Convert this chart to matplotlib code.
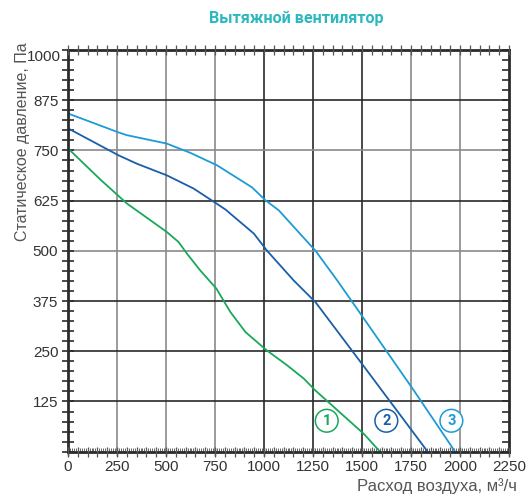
import matplotlib
matplotlib.use("Agg")
import matplotlib.pyplot as plt
import numpy as np
from matplotlib.ticker import MultipleLocator, NullFormatter

plt.rcParams['font.family'] = ['Liberation Sans', 'DejaVu Sans']

title = "Вытяжной вентилятор"
xlabel = "Расход воздуха, м³/ч"
ylabel = "Статическое давление, Па"

x_ticks = [0, 250, 500, 750, 1000, 1250, 1500, 1750, 2000, 2250]
y_ticks = [125, 250, 375, 500, 625, 750, 875, 1000]

curve1_x = [0, 164, 300, 504, 564, 607, 675, 757, 828, 905, 1012, 1118, 1203, 1263, 1510, 1592]
curve1_y = [755, 678, 618, 547, 522, 493, 451, 406, 348, 298, 253, 215, 182, 152, 44, 0]

curve2_x = [0, 257, 351, 504, 641, 760, 803, 948, 1016, 1152, 1263, 1510, 1835]
curve2_y = [805, 738, 717, 688, 655, 617, 603, 543, 500, 426, 372, 212, 0]

curve3_x = [0, 257, 300, 504, 624, 760, 939, 1007, 1075, 1263, 1374, 1510, 1765, 1975]
curve3_y = [842, 795, 788, 767, 744, 713, 658, 626, 601, 500, 426, 331, 152, 0]

labels = ["1", "2", "3"]
label_x = [1320, 1624, 1956]
label_y = [77, 77, 77]
colors = ["#19a85a", "#1a5fa6", "#1d9bd6"]

fig = plt.figure(figsize=(5.26, 5.04), dpi=100)
ax = fig.add_axes([0.1293, 0.1038, 0.9677 - 0.1293, 0.9008 - 0.1038])
ax.set_xlim(0, 2250)
ax.set_ylim(0, 1000)

# grid lines
grid_gray = "#8a8a8a"
grid_dark = "#2a2a2a"
for xv in x_ticks[1:-1]:
    c = grid_gray if xv in (250, 500, 750, 1750, 2000) else grid_dark
    ax.axvline(xv, color=c, lw=1.2, zorder=1)
for yv in y_ticks[:-1]:
    c = grid_gray if yv in (750, 500) else grid_dark
    ax.axhline(yv, color=c, lw=1.2, zorder=1)

for xs, ys, c in zip([curve1_x, curve2_x, curve3_x], [curve1_y, curve2_y, curve3_y], colors):
    ax.plot(xs, ys, color=c, lw=1.3, zorder=3, solid_capstyle='butt')

for lab, lx, ly, c in zip(labels, label_x, label_y, colors):
    ax.text(lx, ly, lab, color=c, fontsize=10.5, fontweight='bold', ha='center', va='center',
            zorder=4, family=['Roboto', 'DejaVu Sans'],
            bbox=dict(boxstyle='circle,pad=0.3', fc='white', ec=c, lw=1.1))

for s in ax.spines.values():
    s.set_linewidth(2.0)
    s.set_color("#2b2b2b")
    s.set_zorder(5)

ax.set_xticks(x_ticks)
ax.set_xticklabels([str(v) for v in x_ticks])
ax.xaxis.set_minor_locator(MultipleLocator(10))
ax.tick_params(axis='x', which='major', direction='inout', length=6, width=1.0,
               top=True, bottom=True, labelsize=11, labelcolor="#333333", color="#444444", pad=3)
ax.tick_params(axis='x', which='minor', direction='in', length=3, width=0.7,
               top=True, bottom=True, color="#666666")

ax.set_yticks(y_ticks)
ax.set_yticklabels([str(v) if v != 1000 else "" for v in y_ticks])
ax.yaxis.set_minor_locator(MultipleLocator(25))
ax.tick_params(axis='y', which='both', direction='inout', length=8, width=1.2,
               left=True, right=False, labelsize=11, labelcolor="#333333", color="#2b2b2b", pad=3)
ax.text(-0.017, 1000, "1000", transform=ax.get_yaxis_transform(), ha='right', va='top',
        fontsize=11, color="#333333")

# right ticks inward
axr = ax.twinx()
axr.set_ylim(0, 1000)
axr.yaxis.set_major_locator(MultipleLocator(25))
axr.yaxis.set_major_formatter(NullFormatter())
axr.tick_params(axis='y', direction='in', length=5, width=1.2, color="#2b2b2b")
for s in axr.spines.values():
    s.set_visible(False)

# additional 50-unit ticks top/bottom
axt = ax.twiny()
axt.set_xlim(0, 2250)
axt.xaxis.set_major_locator(MultipleLocator(50))
axt.xaxis.set_major_formatter(NullFormatter())
axt.tick_params(axis='x', direction='inout', length=7, width=0.9, top=True, bottom=True,
                color="#555555")
for s in axt.spines.values():
    s.set_visible(False)

fig.text(0.563, 0.963, title, color="#2bb8bf", fontsize=11.6, fontweight='bold', ha='center', va='center',
         family=['Roboto', 'DejaVu Sans'])
fig.text(0.983, 0.02, xlabel, color="#555555", fontsize=12, ha='right', va='bottom')
fig.text(0.042, 0.915, ylabel, color="#555555", fontsize=11.5, ha='center', va='top', rotation=90)

fig.savefig("out.png", dpi=100)
